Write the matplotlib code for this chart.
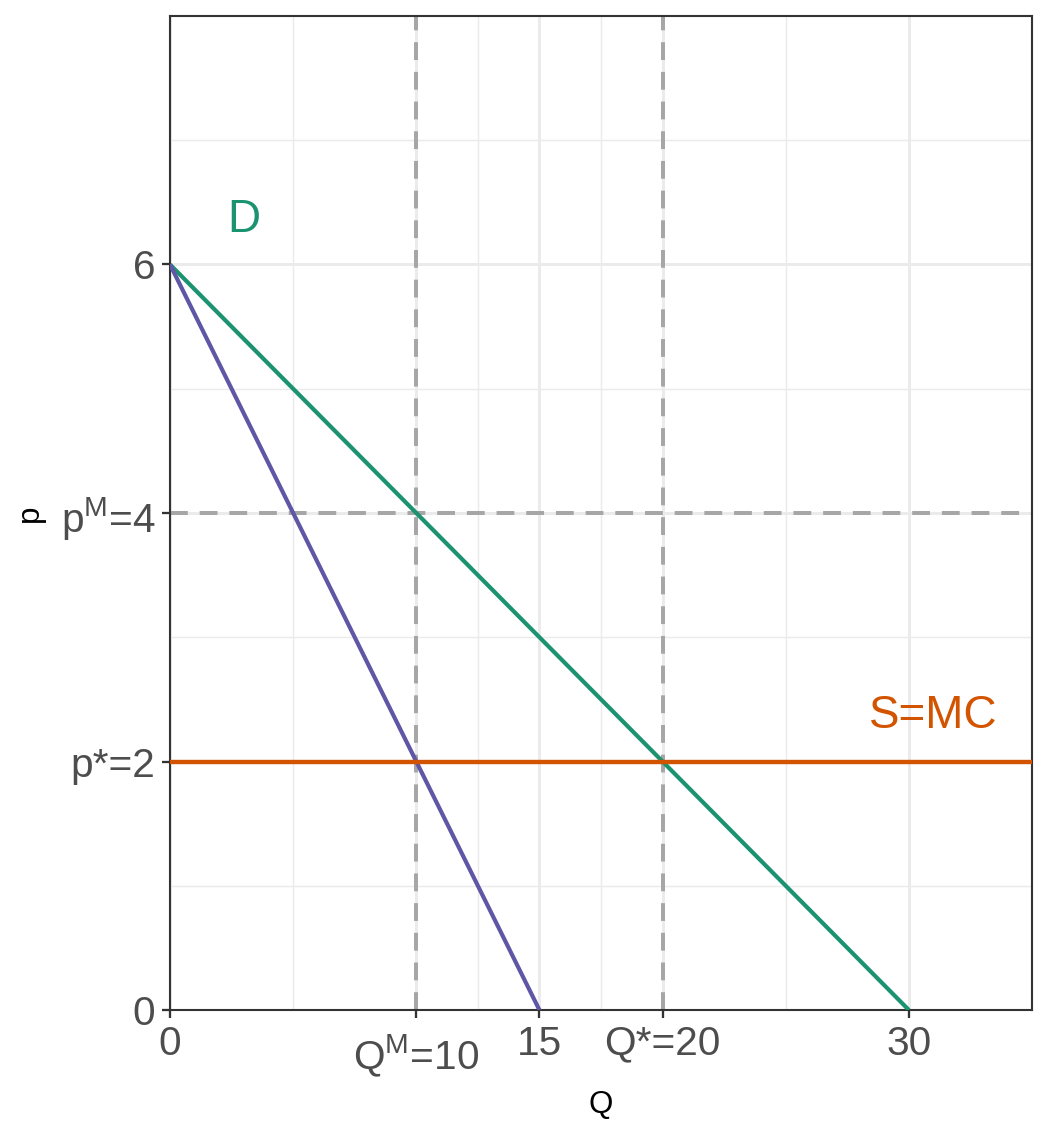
import numpy as np
import matplotlib.pyplot as plt
from matplotlib.ticker import FixedLocator
from matplotlib.transforms import ScaledTranslation

plt.rcParams['font.family'] = ['Liberation Sans', 'DejaVu Sans']
plt.rcParams['mathtext.fontset'] = 'custom'
plt.rcParams['mathtext.rm'] = 'Liberation Sans'
plt.rcParams['mathtext.it'] = 'Liberation Sans'

# demand, marginal revenue, supply
demand_q = [0, 30]
demand_p = [6, 0]
mr_q = [0, 15]
mr_p = [6, 0]
mc_q = [0, 35]
mc_p = [2, 2]

# monopoly / competitive reference levels
q_dashed = [10, 20]
p_dashed = [4]

x_ticks = [0, 10, 15, 20, 30]
x_labels = ['0', r'Q$^{\mathrm{M}}$=10', '15', 'Q*=20', '30']
x_minor = [5, 12.5, 17.5, 25]
y_ticks = [0, 2, 4, 6]
y_labels = ['0', 'p*=2', r'p$^{\mathrm{M}}$=4', '6']
y_minor = [1, 3, 5, 7]

green = '#1b9270'
purple = '#5f57a5'
orange = '#d35400'

fig = plt.figure(figsize=(7, 7.6), dpi=150)
ax = fig.add_axes([0.1619, 0.114, 0.821, 0.872])

ax.set_xlim(0, 35)
ax.set_ylim(0, 8)

# grid like theme_bw
ax.xaxis.set_major_locator(FixedLocator(x_ticks))
ax.xaxis.set_minor_locator(FixedLocator(x_minor))
ax.yaxis.set_major_locator(FixedLocator(y_ticks))
ax.yaxis.set_minor_locator(FixedLocator(y_minor))
ax.grid(which='major', color='#ebebeb', lw=1.4, zorder=0)
ax.grid(which='minor', color='#ebebeb', lw=0.7, zorder=0)
ax.set_axisbelow(True)

dash = (0, (4.5, 3))
for q in q_dashed:
    ax.axvline(q, color='#a6a6a6', lw=1.9, ls=dash, zorder=1)
for p in p_dashed:
    ax.axhline(p, color='#a6a6a6', lw=1.9, ls=dash, zorder=1)

ax.plot(demand_q, demand_p, color=green, lw=2.0, zorder=3, solid_capstyle='butt')
ax.plot(mr_q, mr_p, color=purple, lw=2.0, zorder=3, solid_capstyle='butt')
ax.plot(mc_q, mc_p, color=orange, lw=2.1, zorder=4, solid_capstyle='butt')

ax.text(3, 6.36, 'D', color=green, fontsize=22, ha='center', va='center')
ax.text(31, 2.37, 'S=MC', color=orange, fontsize=22, ha='center', va='center')

ax.set_xticklabels(x_labels)
ax.set_yticklabels(y_labels)
ax.tick_params(which='major', length=4, width=1.1, color='#333333',
               labelsize=19.5, labelcolor='#4d4d4d', pad=3)
ax.tick_params(which='minor', length=0)

# superscript label sits lower, as in the original
lab = ax.get_xticklabels()[1]
lab.set_transform(lab.get_transform() + ScaledTranslation(0, -4 / 72, fig.dpi_scale_trans))

for s in ax.spines.values():
    s.set_color('#333333')
    s.set_linewidth(1.0)

ax.set_xlabel('Q', fontsize=15, labelpad=5)
ax.set_ylabel('p', fontsize=15)
ax.yaxis.set_label_coords(-0.145, 0.5)

fig.savefig('out.png', dpi=150)
